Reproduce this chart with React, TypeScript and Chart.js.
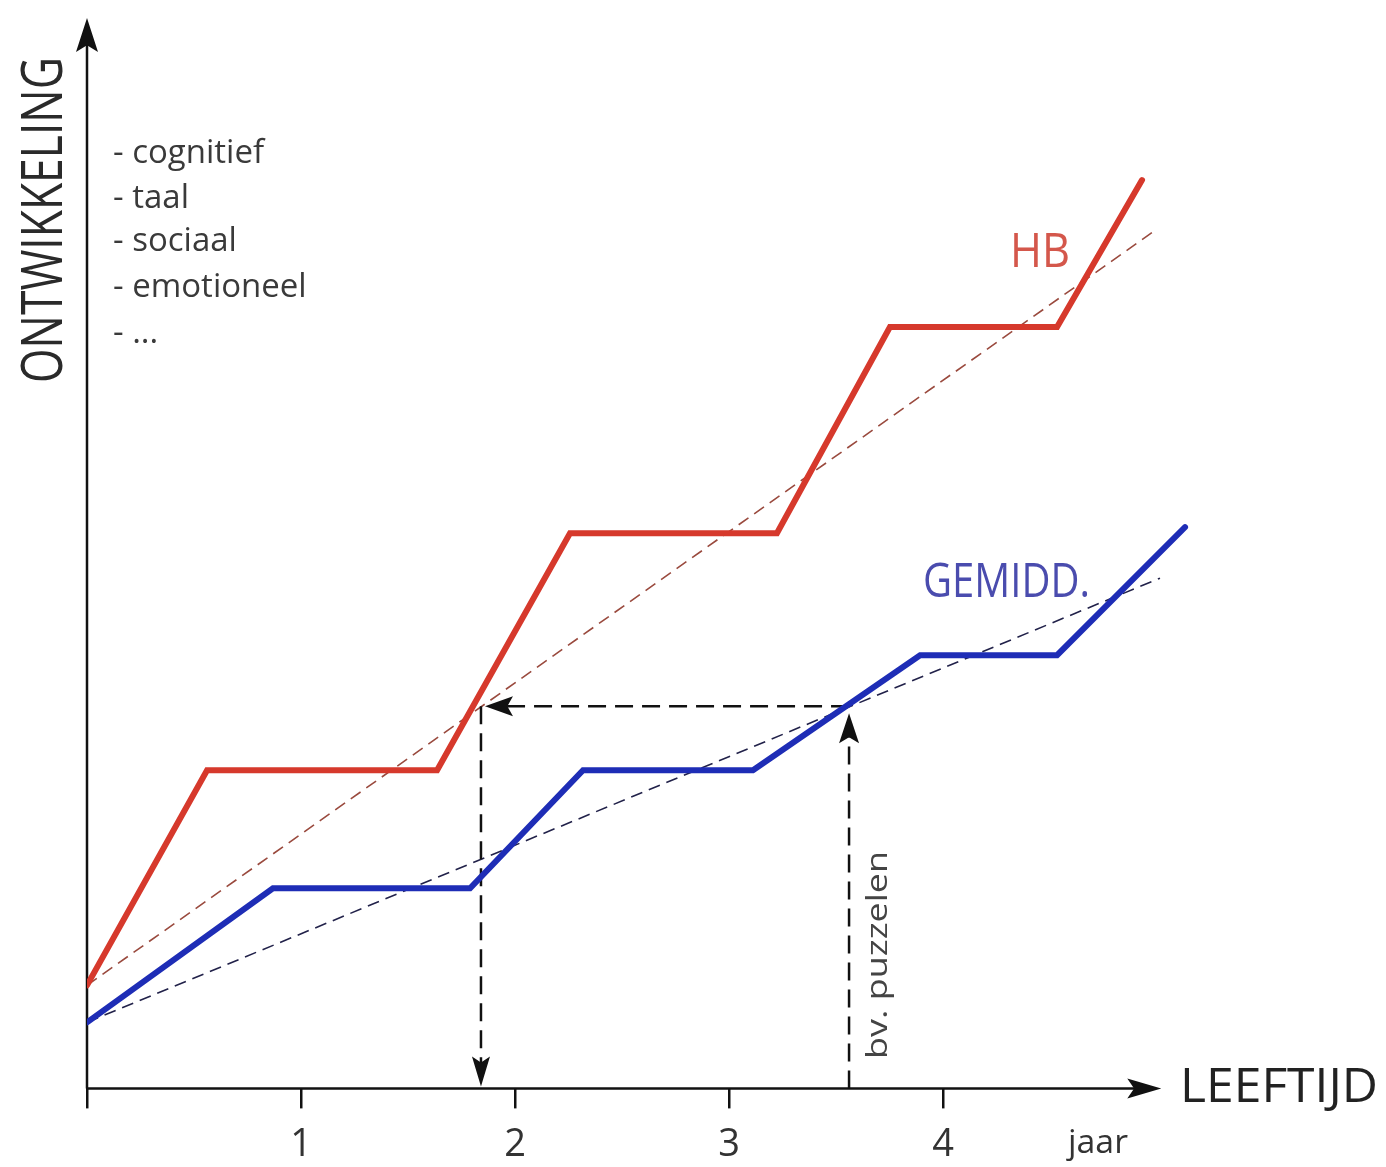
import React, { useEffect, useRef } from 'react';
import { Chart, registerables } from 'chart.js';

Chart.register(...registerables);

// ---- data (x = age in years, y = development level, arbitrary units) ----
const hbX = [0, 0.561, 1.636, 2.257, 3.224, 3.752, 4.533, 4.93];
const hbY = [1.03, 3.18, 3.18, 5.55, 5.55, 7.61, 7.61, 9.08];
const avgX = [0, 0.869, 1.79, 2.318, 3.112, 3.893, 4.533, 5.131];
const avgY = [0.66, 2.0, 2.0, 3.18, 3.18, 4.33, 4.33, 5.61];
const hbTrendX = [0, 5.0];
const hbTrendY = [1.03, 8.59];
const avgTrendX = [0, 5.014];
const avgTrendY = [0.66, 5.1];
const hbAgeX = 1.841;
const avgAgeX = 3.561;
const levelY = 3.82;
const xTicks = [0, 1, 2, 3, 4];
const xTickLabels = ['', '1', '2', '3', '4'];
const axisEndX = 5.02;
const axisTopY = 10.7;
const skillLabels = ['- cognitief', '- taal', '- sociaal', '- emotioneel', '- ...'];

const FONT = '"Open Sans", "Noto Sans", sans-serif';

const pts = (xs: number[], ys: number[]) => xs.map((x, i) => ({ x, y: ys[i] }));

function arrowHead(ctx: CanvasRenderingContext2D, tx: number, ty: number, ang: number, len: number, hw: number) {
  const dx = Math.cos(ang), dy = Math.sin(ang);
  const bx = tx - dx * len, by = ty - dy * len;
  ctx.beginPath();
  ctx.moveTo(tx, ty);
  ctx.lineTo(bx - dy * hw, by + dx * hw);
  ctx.lineTo(bx + dx * len * 0.2, by + dy * len * 0.2);
  ctx.lineTo(bx + dy * hw, by - dx * hw);
  ctx.closePath();
  ctx.fill();
}

function drawText(
  ctx: CanvasRenderingContext2D,
  text: string,
  x: number,
  y: number,
  o: { size: number; color: string; align?: CanvasTextAlign; rotate?: number; width?: number }
) {
  ctx.save();
  ctx.translate(x, y);
  if (o.rotate) ctx.rotate(o.rotate);
  ctx.font = `400 ${o.size}px ${FONT}`;
  ctx.fillStyle = o.color;
  ctx.textAlign = o.align || 'left';
  ctx.textBaseline = 'alphabetic';
  if (o.width) {
    const m = ctx.measureText(text).width;
    ctx.scale(o.width / m, 1);
  }
  ctx.fillText(text, 0, 0);
  ctx.restore();
}

const overlay = {
  id: 'overlay',
  beforeDatasetsDraw(chart: any) {
    const { ctx, scales } = chart;
    const xs = scales.x, ys = scales.y;
    const x0 = xs.getPixelForValue(0);
    const y0 = ys.getPixelForValue(0);
    const xEnd = xs.getPixelForValue(axisEndX);
    const yTop = ys.getPixelForValue(axisTopY);
    ctx.save();
    ctx.strokeStyle = '#111';
    ctx.fillStyle = '#111';
    ctx.lineWidth = 2.5;
    ctx.beginPath();
    ctx.moveTo(x0, y0);
    ctx.lineTo(xEnd - 20, y0);
    ctx.stroke();
    ctx.beginPath();
    ctx.moveTo(x0, y0);
    ctx.lineTo(x0, yTop + 20);
    ctx.stroke();
    arrowHead(ctx, xEnd, y0, 0, 34, 10);
    arrowHead(ctx, x0, yTop, -Math.PI / 2, 34, 11);
    ctx.restore();
  },
  afterDatasetsDraw(chart: any) {
    const { ctx, scales } = chart;
    const xs = scales.x, ys = scales.y;
    const yl = ys.getPixelForValue(levelY);
    const xl = xs.getPixelForValue(hbAgeX);
    const xr = xs.getPixelForValue(avgAgeX);
    const y0 = ys.getPixelForValue(0);
    ctx.save();
    ctx.fillStyle = '#111';
    arrowHead(ctx, xl + 4, yl, Math.PI, 28, 10);
    arrowHead(ctx, xl, y0 - 2, Math.PI / 2, 30, 9);
    arrowHead(ctx, xr, yl + 7, -Math.PI / 2, 30, 10);
    ctx.restore();

    drawText(ctx, 'ONTWIKKELING', 62, 220, { size: 56, color: '#2a2a2a', align: 'center', rotate: -Math.PI / 2, width: 326 });
    const baselines = [163, 208, 251, 297, 343];
    skillLabels.forEach((t, i) => drawText(ctx, t, 113, baselines[i], { size: 33, color: '#3a3a3a' }));
    drawText(ctx, 'HB', 1010, 267, { size: 47, color: '#d4574b', width: 60 });
    drawText(ctx, 'GEMIDD.', 923, 597, { size: 47, color: '#4a4cae', width: 167 });
    drawText(ctx, 'LEEFTIJD', 1180, 1102, { size: 47, color: '#222', width: 198 });
    drawText(ctx, 'jaar', 1068, 1153, { size: 32, color: '#333', width: 60 });
    drawText(ctx, 'bv. puzzelen', 887, 955, { size: 30, color: '#444', align: 'center', rotate: -Math.PI / 2, width: 208 });
  },
};

export default function App() {
  const ref = useRef<HTMLCanvasElement | null>(null);
  useEffect(() => {
    document.body.style.margin = '0';
    const canvas = ref.current;
    if (!canvas) return;
    const unit = 214;
    const xMax = 5.3;
    const chart = new Chart(canvas, {
      type: 'line',
      data: {
        datasets: [
          { label: 'HB', data: pts(hbX, hbY), borderColor: '#d6392c', borderWidth: 6, order: 0, borderJoinStyle: 'miter', borderCapStyle: 'round' },
          { label: 'GEMIDD.', data: pts(avgX, avgY), borderColor: '#1e2db6', borderWidth: 6, order: 0, borderJoinStyle: 'miter', borderCapStyle: 'round' },
          { label: 'HB trend', data: pts(hbTrendX, hbTrendY), borderColor: '#9a4a3e', borderWidth: 1.6, borderDash: [12, 7], order: 2 },
          { label: 'GEMIDD. trend', data: pts(avgTrendX, avgTrendY), borderColor: '#22224a', borderWidth: 1.6, borderDash: [12, 7], order: 2 },
          { label: 'level', data: pts([avgAgeX, hbAgeX + 20 / unit], [levelY, levelY]), borderColor: '#111', borderWidth: 2.5, borderDash: [18, 9], order: 1 },
          { label: 'hb age', data: pts([hbAgeX, hbAgeX], [levelY, 0.25]), borderColor: '#111', borderWidth: 2.5, borderDash: [18, 9], order: 1 },
          { label: 'avg age', data: pts([avgAgeX, avgAgeX], [0, levelY - 0.3]), borderColor: '#111', borderWidth: 2.5, borderDash: [18, 9], order: 1 },
        ] as any,
      },
      options: {
        responsive: false,
        animation: false,
        events: [],
        layout: { padding: { left: 87, right: 1386 - 87 - unit * xMax, top: 18, bottom: -15 } },
        plugins: { legend: { display: false }, tooltip: { enabled: false } },
        elements: { point: { radius: 0 }, line: { tension: 0 } },
        scales: {
          x: {
            type: 'linear',
            min: 0,
            max: xMax,
            afterBuildTicks: (s: any) => {
              s.ticks = xTicks.map((v) => ({ value: v }));
            },
            ticks: {
              autoSkip: false,
              maxRotation: 0,
              padding: 14,
              color: '#333',
              font: { family: FONT, size: 38 },
              callback: (v: any) => xTickLabels[xTicks.indexOf(Number(v))] ?? '',
            },
            grid: { display: true, drawOnChartArea: false, drawTicks: true, tickLength: 20, color: '#111', lineWidth: 2.5 },
            border: { display: false },
          },
          y: { type: 'linear', min: 0, max: axisTopY, display: false },
        },
      } as any,
      plugins: [overlay],
    });
    return () => chart.destroy();
  }, []);
  return <canvas ref={ref} width={1386} height={1167} style={{ display: 'block' }} />;
}
